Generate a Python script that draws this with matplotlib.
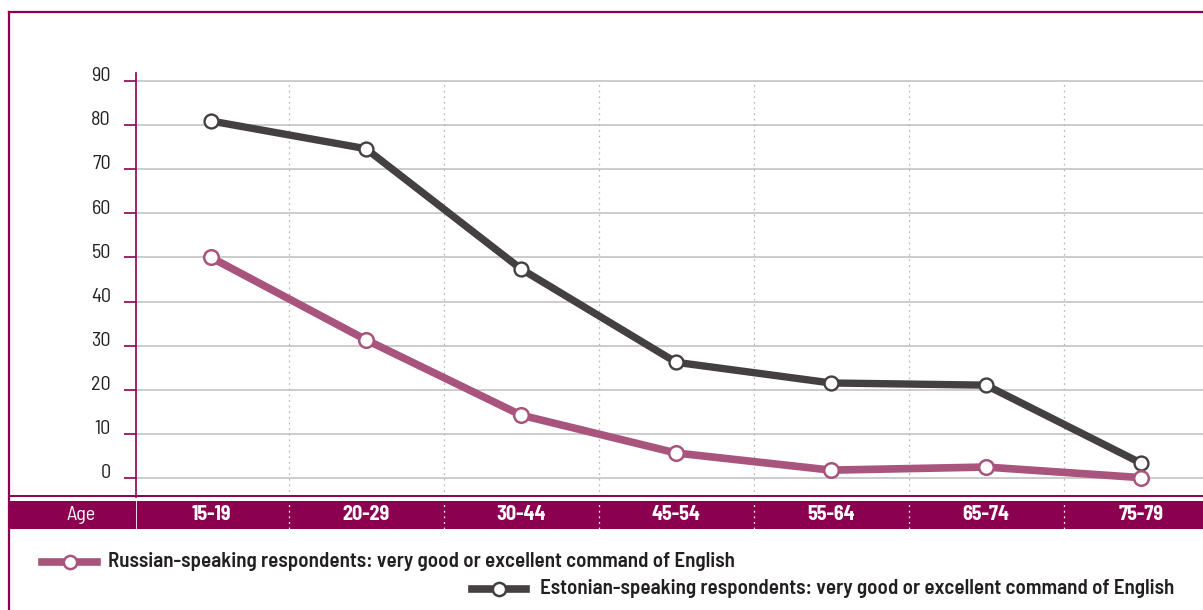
import matplotlib
matplotlib.use("Agg")
import matplotlib.pyplot as plt
from matplotlib.lines import Line2D
from matplotlib.patches import Rectangle
from matplotlib.transforms import ScaledTranslation
import numpy as np

FONT = ['Barlow Semi Condensed', 'DejaVu Sans']
plt.rcParams['font.family'] = FONT

categories = ["15-19", "20-29", "30-44", "45-54", "55-64", "65-74", "75-79"]
russian = [50.0, 31.3, 14.2, 5.6, 1.7, 2.4, 0.0]
estonian = [81.0, 74.7, 47.4, 26.2, 21.5, 21.0, 3.3]
yticks = [0, 10, 20, 30, 40, 50, 60, 70, 80, 90]
russian_label = "Russian-speaking respondents: very good or excellent command of English"
estonian_label = "Estonian-speaking respondents: very good or excellent command of English"
axis_label = "Age"

MAG = "#8C0050"
RUS = "#A8547C"
EST = "#444041"
GRID = "#C8C8C8"
TXT = "#231F20"

W, H = 1203, 610
fig = plt.figure(figsize=(W / 100, H / 100), dpi=100)

def fx(px):
    return px / W

def fy(py):
    return 1 - py / H

# frame
fig.add_artist(Line2D([fx(9), 1.0], [fy(12), fy(12)], color=MAG, lw=1.6))
fig.add_artist(Line2D([fx(9), fx(9)], [fy(12), 0.0], color=MAG, lw=1.6))
# thin line above band
fig.add_artist(Line2D([fx(9), 1.0], [fy(496), fy(496)], color=MAG, lw=1.4))
# band left part
fig.add_artist(Rectangle((fx(9), fy(529)), fx(136) - fx(9), fy(501) - fy(529),
                         facecolor=MAG, edgecolor='none', transform=fig.transFigure))
fig.text(fx(81), fy(515), axis_label, color='white', fontsize=14.5,
         ha='center', va='center')

n = len(categories)
x = np.arange(n)
xlim = (-0.484, 6.4)

ax = fig.add_axes([fx(136), fy(497), 1 - fx(136), fy(73) - fy(497)])
ax.set_xlim(*xlim)
ax.set_ylim(-4.4, 91.9)
for s in ['top', 'right', 'bottom']:
    ax.spines[s].set_visible(False)
ax.spines['left'].set_color(MAG)
ax.spines['left'].set_linewidth(1.2)
ax.set_yticks(yticks)
ax.set_yticklabels([str(v) for v in yticks])
ax.tick_params(axis='y', colors=MAG, length=9, width=1.2, pad=9,
               labelcolor=TXT, labelsize=14.5)
off = ScaledTranslation(0, 5 / 72, fig.dpi_scale_trans)
for lab in ax.get_yticklabels():
    lab.set_transform(lab.get_transform() + off)
ax.set_xticks([])
for v in yticks:
    ax.axhline(v, color=GRID, lw=1.3, zorder=1)
ax.vlines(np.arange(n - 1) + 0.5, -4.4, 90, colors='#BBBBBB', lw=0.9,
          linestyles=(0, (1.5, 3)), zorder=1)

ax.plot(x, estonian, color=EST, lw=5.3, marker='o', ms=10, mfc='white',
        mec=EST, mew=1.7, zorder=4, clip_on=False)
ax.plot(x, russian, color=RUS, lw=5.5, marker='o', ms=10.5, mfc='white',
        mec=RUS, mew=1.8, zorder=5, clip_on=False)

# band axes
bax = fig.add_axes([fx(136), fy(529), 1 - fx(136), fy(501) - fy(529)])
bax.set_facecolor(MAG)
bax.set_xlim(*xlim)
bax.set_ylim(0, 1)
for s in bax.spines.values():
    s.set_visible(False)
bax.set_xticks([])
bax.set_yticks([])
bax.axvline(xlim[0], color='white', lw=1.2)
bax.vlines(np.arange(n - 1) + 0.5, 0, 1, colors='white', lw=0.9,
           linestyles=(0, (1.5, 3)))
for i, c in enumerate(categories):
    bax.text(i, 0.5, c, color='white', fontsize=14.5, fontweight='bold',
             ha='center', va='center')

# legend (manual keys)
def key(x0, x1, y, color):
    fig.add_artist(Line2D([fx(x0), fx(x1)], [fy(y), fy(y)], color=color, lw=5.5))
    fig.add_artist(Line2D([fx((x0 + x1) / 2)], [fy(y)], marker='o', ms=9.5,
                          mfc='white', mec=color, mew=1.8, lw=0))

key(42, 97, 561.5, RUS)
fig.text(fx(108), fy(561.5), russian_label, color=TXT, fontsize=15.1,
         fontweight='semibold', ha='left', va='center')
key(472, 526, 589, EST)
fig.text(fx(540), fy(589), estonian_label, color=TXT, fontsize=15.1,
         fontweight='semibold', ha='left', va='center')

fig.savefig("out.png", dpi=100)
